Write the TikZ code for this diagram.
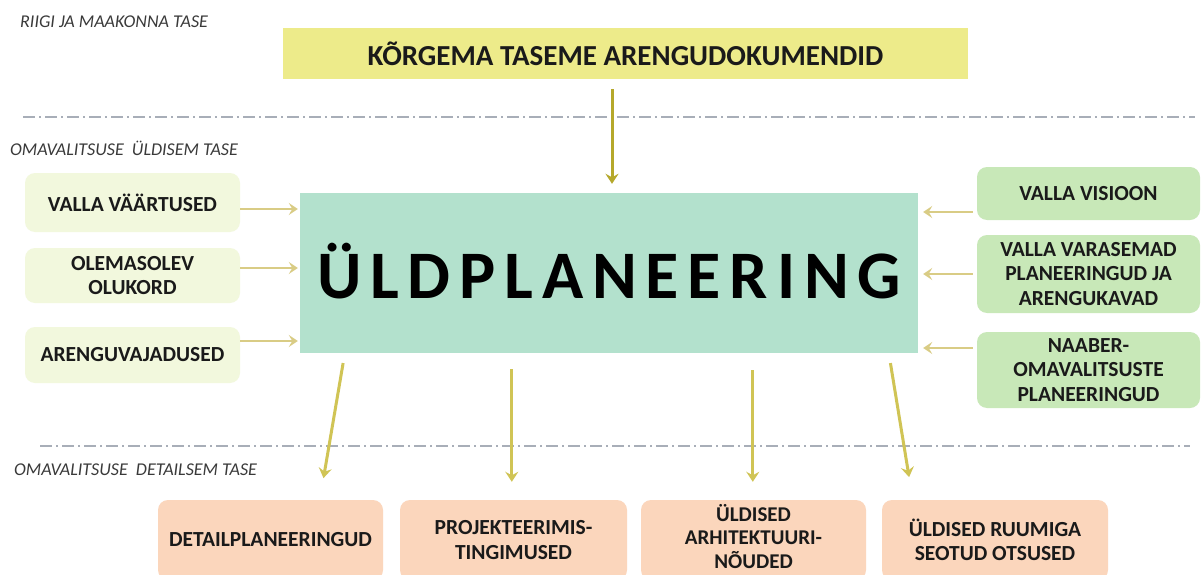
\documentclass[tikz,border=0pt]{standalone}
\usepackage{fontspec}
\setmainfont{Carlito}
\newfontfamily\spacedfont[LetterSpace=13]{Carlito}
\usetikzlibrary{arrows.meta,calc}
\definecolor{topc}{HTML}{EDEB8A}
\definecolor{mainc}{HTML}{B3E1CD}
\definecolor{leftc}{HTML}{F2F8DD}
\definecolor{rightc}{HTML}{C8E8B8}
\definecolor{botc}{HTML}{FBD6BC}
\definecolor{txtc}{HTML}{1A1A1A}
\definecolor{lvlc}{HTML}{3A3A3A}
\definecolor{sepc}{HTML}{A8AEB8}
\definecolor{arrtop}{HTML}{B5A82B}
\definecolor{arrbot}{HTML}{D0C455}
\definecolor{arrside}{HTML}{D9CC85}
\tikzset{
  box/.style={inner sep=2pt, align=center, text=txtc, font=\fontsize{21.5}{24.5}\selectfont\bfseries},
  lbox/.style={box, fill=leftc, rounded corners=10pt},
  rbox/.style={box, fill=rightc, rounded corners=10pt},
  bbox/.style={box, fill=botc, rounded corners=10pt},
  lvl/.style={inner sep=0pt, anchor=west, text=lvlc, font=\fontsize{18}{21}\selectfont\itshape},
  sepline/.style={draw=sepc, line width=1.4pt, dash pattern=on 12pt off 4pt on 2pt off 4pt},
  arrbase/.style={-{Stealth[length=10pt,width=13pt,inset=3.5pt]}},
  toparr/.style={arrbase, draw=arrtop, line width=3pt},
  botarr/.style={arrbase, draw=arrbot, line width=3pt},
  sidearr/.style={-{Stealth[length=9pt,width=12pt,inset=3.5pt]}, draw=arrside, line width=2.5pt}
}
\begin{document}
\begin{tikzpicture}[x=1pt,y=-1pt]
\useasboundingbox (0,0) rectangle (1201,575);
\clip (0,0) rectangle (1201,575);
\fill[white] (0,0) rectangle (1201,575);

% separators
\draw[sepline] (23,117) -- (1195,117);
\draw[sepline] (40,446) -- (1190,446);

% level labels
\node[lvl] (lv1) at (20,22) {RIIGI JA MAAKONNA TASE};
\node[lvl] (lv2) at (10,148) {OMAVALITSUSE\ \ ÜLDISEM TASE};
\node[lvl] (lv3) at (14,470) {OMAVALITSUSE\ \ DETAILSEM TASE};

% top box
\node[box, fill=topc, minimum width=685pt, minimum height=51pt, font=\fontsize{29}{32}\selectfont\bfseries] (top) at (625.5,53.5) {KÕRGEMA TASEME ARENGUDOKUMENDID};

% main box
\node[box, fill=mainc, minimum width=618pt, minimum height=160pt, font=\fontsize{68}{72}\spacedfont\bfseries, text=black] (m) at (609,273) {\raisebox{4pt}{ÜLDPLANEERING}};

% left boxes
\node[lbox, minimum width=215pt, minimum height=59pt] (l1) at (132.5,202.5) {VALLA VÄÄRTUSED};
\node[lbox, minimum width=215pt, minimum height=55pt] (l2) at (132.5,275.5) {OLEMASOLEV\\OLUKORD};
\node[lbox, minimum width=215pt, minimum height=56pt] (l3) at (132.5,355) {ARENGUVAJADUSED};

% right boxes
\node[rbox, minimum width=223pt, minimum height=53pt] (r1) at (1088.5,193.5) {VALLA VISIOON};
\node[rbox, minimum width=223pt, minimum height=78pt] (r2) at (1088.5,274) {VALLA VARASEMAD\\PLANEERINGUD JA\\ARENGUKAVAD};
\node[rbox, minimum width=223pt, minimum height=76pt] (r3) at (1088.5,370) {NAABER-\\OMAVALITSUSTE\\PLANEERINGUD};

% bottom boxes
\node[bbox, minimum width=225pt, minimum height=80pt] (b1) at (270.5,540) {DETAILPLANEERINGUD};
\node[bbox, minimum width=227pt, minimum height=80pt] (b2) at (513.5,540) {PROJEKTEERIMIS-\\TINGIMUSED};
\node[bbox, minimum width=225pt, minimum height=80pt, font=\fontsize{21}{23}\selectfont\bfseries] (b3) at (753.5,540) {\raisebox{2pt}{\begin{tabular}{@{}c@{}}ÜLDISED\\ARHITEKTUURI-\\NÕUDED\end{tabular}}};
\node[bbox, minimum width=226pt, minimum height=80pt] (b4) at (995,540) {ÜLDISED RUUMIGA\\SEOTUD OTSUSED};

% top arrow
\draw[toparr, shorten <=10pt, shorten >=9pt] ($(top.south)+(-13.5,0)$) -- ($(m.north)+(3,0)$);

% left arrows
\draw[sidearr, shorten >=2pt] ($(l1.east)+(0,6.5)$) -- ($(l1.east -| m.west)+(0,6.5)$);
\draw[sidearr, shorten >=2pt] ($(l2.east)+(0,-7.5)$) -- ($(l2.east -| m.west)+(0,-7.5)$);
\draw[sidearr, shorten >=2pt] ($(l3.east)+(0,-14)$) -- ($(l3.east -| m.west)+(0,-14)$);

% right arrows
\draw[sidearr, shorten <=4pt, shorten >=5pt] ($(r1.west)+(0,18.5)$) -- ($(r1.west -| m.east)+(0,18.5)$);
\draw[sidearr, shorten <=4pt, shorten >=5pt] (r2.west) -- (r2.west -| m.east);
\draw[sidearr, shorten <=4pt, shorten >=5pt] ($(r3.west)+(0,-22)$) -- ($(r3.west -| m.east)+(0,-22)$);

% bottom arrows
\draw[botarr, shorten <=10pt, shorten >=22pt] ($(m.south west)+(45,0)$) -- ($(b1.north west)+(162,0)$);
\draw[botarr, shorten <=16pt, shorten >=18pt] ($(m.south west)+(212,0)$) -- ($(b2.north west)+(112,0)$);
\draw[botarr, shorten <=17pt, shorten >=18pt] ($(m.south west)+(453,0)$) -- ($(b3.north west)+(112,0)$);
\draw[botarr, shorten <=10pt, shorten >=23pt] ($(m.south west)+(589,0)$) -- ($(b4.north west)+(31,0)$);
\end{tikzpicture}
\end{document}
